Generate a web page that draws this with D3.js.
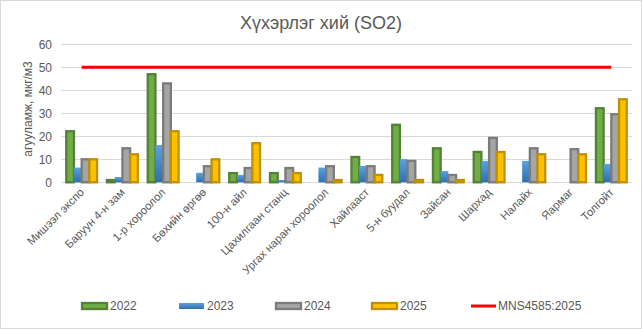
<!DOCTYPE html>
<html><head><meta charset="utf-8">
<script src="https://cdn.jsdelivr.net/npm/d3@7"></script>
<style>body{margin:0;background:#fff}svg{display:block;font-family:"Liberation Sans",Arial,sans-serif}</style>
</head><body><svg id="c" width="642" height="329"></svg>
<script>
const categories = ["Мишээл экспо","Баруун 4-н зам","1-р хороолол","Бөхийн өргөө","100-н айл","Цахилгаан станц","Ургах наран хороолол","Хайлааст","5-н буудал","Зайсан","Шархад","Налайх","Яармаг","Толгойт"];
const years = ["2022","2023","2024","2025"];
const v2022 = [22.2,1,47,null,4,4,null,11,25,14.8,13.2,null,null,32.2];
const v2023 = [6.4,2.3,16.2,4.1,3.2,1,6.4,7.1,10.1,4.9,9.3,9.3,null,8];
const v2024 = [10,14.8,43,7,6.2,6.2,7,7,9.3,3.2,19.3,14.8,14.4,29.6];
const v2025 = [10,12.2,22.2,10,17,4,1,3.2,1,1,13.2,12.2,12.2,36.1];
const standardValue = 50;
const standardLabel = "MNS4585:2025";
const yTicks = [0,10,20,30,40,50,60];
const title = "Хүхэрлэг хий (SO2)";
const yTitle = "агууламж, мкг/м3";

const series = [v2022,v2023,v2024,v2025];
const fills = ["#70ad47","url(#gBlue)","#a5a5a5","#ffc000"];
const strokes = ["#548235",null,"#7b7b7b","#bf9000"];

const svg = d3.select("#c");
const defs = svg.append("defs");
const gb = defs.append("linearGradient").attr("id","gBlue").attr("x1",0).attr("y1",0).attr("x2",0).attr("y2",1);
gb.append("stop").attr("offset","0%").attr("stop-color","#5aa2e2");
gb.append("stop").attr("offset","100%").attr("stop-color","#2f6fad");

svg.append("rect").attr("x",0.5).attr("y",0.5).attr("width",641).attr("height",328).attr("fill","#fff").attr("stroke","#d9d9d9");

const x = d3.scaleBand().domain(categories).range([61.3,631.7]).paddingInner(0).paddingOuter(0);
const y = d3.scaleLinear().domain([0,60]).range([182.3,44.3]);
const bw = 7.7;
const x1 = d3.scaleBand().domain(years).range([0,bw*4]);

// gridlines
svg.append("g").selectAll("line").data(yTicks).join("line")
  .attr("x1",61).attr("x2",632).attr("y1",d=>Math.round(y(d))+0.5).attr("y2",d=>Math.round(y(d))+0.5)
  .attr("stroke","#d9d9d9").attr("stroke-width",1);
svg.append("g").selectAll("text").data(yTicks).join("text")
  .attr("x",52).attr("y",d=>y(d)).attr("dy","0.35em").attr("text-anchor","end")
  .attr("font-size",12).attr("fill","#595959").text(d=>d);

// bars
series.forEach((s,i)=>{
  svg.append("g").selectAll("rect").data(s.map((v,j)=>({v,c:categories[j]})).filter(d=>d.v!=null)).join("rect")
    .attr("x",d=>x(d.c)+x.bandwidth()/2-bw*2+x1(years[i]))
    .attr("width",bw)
    .attr("y",d=>y(d.v))
    .attr("height",d=>y(0)-y(d.v))
    .attr("fill",fills[i])
    .attr("stroke",strokes[i]||"none")
    .attr("stroke-width",strokes[i]?2.3:0);
});

// standard line
svg.append("line")
  .attr("x1",x(categories[0])+x.bandwidth()/2).attr("x2",x(categories[categories.length-1])+x.bandwidth()/2)
  .attr("y1",y(standardValue)).attr("y2",y(standardValue))
  .attr("stroke","#ff0000").attr("stroke-width",3);

// x labels
svg.append("g").selectAll("text").data(categories).join("text")
  .attr("transform",d=>`translate(${x(d)+x.bandwidth()/2+3},${193}) rotate(-45)`)
  .attr("text-anchor","end").attr("font-size",11.3).attr("fill","#595959").text(d=>d);

// titles
svg.append("text").attr("x",321).attr("y",29).attr("text-anchor","middle").attr("font-size",18).attr("fill","#595959").text(title);
svg.append("text").attr("transform","translate(32,109) rotate(-90)").attr("text-anchor","middle").attr("font-size",12).attr("fill","#595959").text(yTitle);

// legend
const lg = svg.append("g");
const legX = [82,179,276,372];
years.forEach((yr,i)=>{
  lg.append("rect").attr("x",legX[i]).attr("y",303).attr("width",25).attr("height",6)
    .attr("fill",fills[i]).attr("stroke",strokes[i]||"none").attr("stroke-width",strokes[i]?2.3:0);
  lg.append("text").attr("x",legX[i]+28).attr("y",306).attr("dy","0.35em").attr("font-size",12).attr("fill","#595959").text(yr);
});
lg.append("line").attr("x1",471).attr("x2",496).attr("y1",306).attr("y2",306).attr("stroke","#ff0000").attr("stroke-width",3);
lg.append("text").attr("x",498).attr("y",306).attr("dy","0.35em").attr("font-size",12).attr("fill","#595959").text(standardLabel);
</script></body></html>
